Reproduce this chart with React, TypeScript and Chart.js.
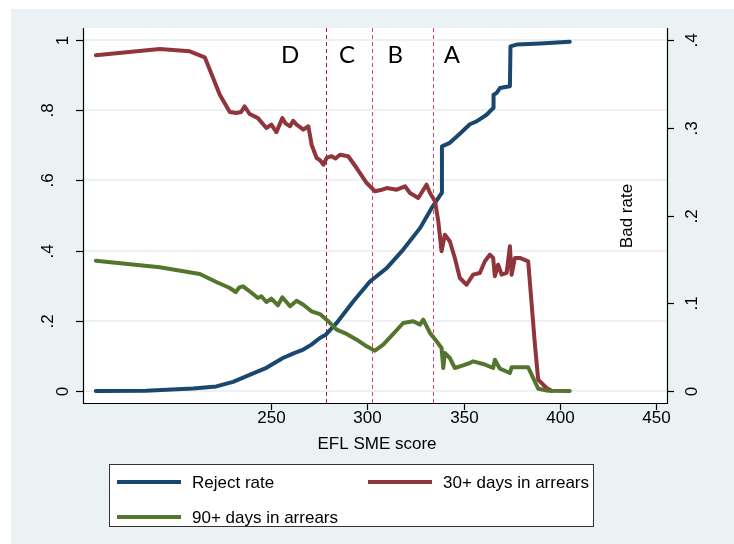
import React, { useEffect, useRef } from "react";
import { Chart, registerables } from "chart.js";

Chart.register(...registerables);

// ---------- data ----------
const rejectScore = [159, 185, 209.5, 221.6, 230.3, 238.9, 247.6, 256.2, 262, 266.8, 271, 275.4, 278.4, 284.1, 292.7, 301.4, 310.1, 318.7, 327.4, 333.4, 338.6, 338.8, 342.9, 348.1, 353.3, 356.8, 362, 365.4, 365.6, 367.2, 368.9, 374.1, 374.4, 377.6, 390, 405.2];
const rejectRate = [0, 0.001, 0.007, 0.013, 0.026, 0.046, 0.066, 0.094, 0.108, 0.118, 0.132, 0.151, 0.16, 0.194, 0.255, 0.312, 0.35, 0.403, 0.464, 0.521, 0.564, 0.697, 0.707, 0.733, 0.76, 0.768, 0.787, 0.806, 0.844, 0.849, 0.863, 0.868, 0.982, 0.987, 0.99, 0.995];

const arrears30Score = [159, 192.2, 207.8, 215.6, 223.4, 228.6, 232, 234.5, 236.3, 238.9, 243.2, 247.6, 250.2, 252.8, 255.9, 257.5, 259.9, 261.5, 263.3, 266.8, 269.4, 271.1, 273.7, 275.5, 277.2, 279, 281.5, 283.5, 285.8, 290.1, 294.5, 299.7, 304, 307, 310.1, 315.3, 319.6, 322.2, 326.5, 330.8, 332.6, 335.2, 336.9, 338.6, 340.3, 342.9, 345.5, 348.1, 351.6, 355, 358.5, 361.1, 363.7, 365.4, 366.3, 368, 369.8, 372.4, 374.1, 375, 376.7, 379.3, 383.6, 387.1, 388.8, 393.1, 396];
const arrears30Rate = [0.3826, 0.3897, 0.3871, 0.3803, 0.3377, 0.318, 0.3168, 0.318, 0.3244, 0.3157, 0.311, 0.2997, 0.3035, 0.295, 0.311, 0.305, 0.3017, 0.308, 0.3035, 0.2978, 0.3017, 0.2807, 0.2655, 0.263, 0.2579, 0.266, 0.2675, 0.265, 0.2693, 0.2675, 0.2541, 0.237, 0.2276, 0.229, 0.2313, 0.2294, 0.2333, 0.2256, 0.2199, 0.2351, 0.2256, 0.2162, 0.1934, 0.1592, 0.1781, 0.1706, 0.1516, 0.1288, 0.1211, 0.1326, 0.1345, 0.1478, 0.1554, 0.1516, 0.1307, 0.144, 0.1326, 0.1345, 0.1649, 0.1326, 0.1516, 0.1516, 0.1478, 0.0528, 0.0129, 0.0034, 0];

const arrears90Score = [159, 192.2, 213, 221.6, 228.6, 231.7, 233.5, 235.5, 238.9, 243.2, 245, 247.6, 250.2, 253.6, 255.9, 259.9, 263.3, 266.8, 271.1, 275.4, 279.8, 284.1, 289.3, 294.5, 299.7, 304, 308.3, 313.5, 318.7, 323.9, 327.4, 329.1, 332.6, 336, 338.6, 339.5, 340.3, 342.9, 345.5, 349.8, 353.3, 355, 360.2, 365.4, 366.3, 368.9, 374.1, 375, 377.6, 383.6, 388.8, 394, 405.2];
const arrears90Rate = [0.1485, 0.141, 0.1333, 0.1242, 0.1174, 0.1128, 0.118, 0.1193, 0.1136, 0.106, 0.108, 0.1014, 0.1052, 0.0977, 0.1068, 0.0965, 0.1029, 0.0983, 0.0908, 0.0877, 0.0794, 0.0699, 0.065, 0.0585, 0.0509, 0.0459, 0.0528, 0.065, 0.0775, 0.0794, 0.0756, 0.0813, 0.0661, 0.0566, 0.049, 0.0262, 0.0433, 0.0376, 0.0262, 0.0293, 0.0319, 0.0338, 0.0308, 0.0262, 0.0357, 0.0254, 0.0205, 0.027, 0.027, 0.027, 0.0026, 0.0003, 0];

const leftTicks = [0, 0.2, 0.4, 0.6, 0.8, 1];
const leftTickLabels = ["0", ".2", ".4", ".6", ".8", "1"];
const rightTicks = [0, 0.1, 0.2, 0.3, 0.4];
const rightTickLabels = ["0", ".1", ".2", ".3", ".4"];
const xTicks = [250, 300, 350, 400, 450];
const xTickLabels = ["250", "300", "350", "400", "450"];
const gradeCutoffs = [278.4, 302.3, 334.3];
const gradeLabels = ["D", "C", "B", "A"];
const gradeLabelScores = [259.9, 289.5, 314.6, 343.9];
const seriesNames = ["Reject rate", "30+ days in arrears", "90+ days in arrears"];
const xTitle = "EFL SME score";
const rightTitle = "Bad rate";

// ---------- style ----------
const W = 734;
const H = 544;
const NAVY = "#1a476f";
const MAROON = "#90353b";
const GREEN = "#55752f";
const BG = "#eaf2f3";
const FONT = '17px "Liberation Sans", Arial, sans-serif';

const toPts = (xs: number[], ys: number[]) => xs.map((x, i) => ({ x, y: ys[i] }));

const stataPlugin = {
  id: "stataDecor",
  beforeDraw(chart: any) {
    const { ctx, chartArea: a } = chart;
    const x = chart.scales.x;
    const yL = chart.scales.yL;
    ctx.save();
    ctx.fillStyle = "#ffffff";
    ctx.fillRect(0, 0, W, H);
    ctx.fillStyle = BG;
    ctx.fillRect(11, 9, W - 11, H - 9);
    ctx.fillStyle = "#ffffff";
    ctx.fillRect(a.left, a.top, a.right - a.left, a.bottom - a.top);
    // horizontal grid
    ctx.strokeStyle = "#e6eef0";
    ctx.lineWidth = 1.5;
    leftTicks.forEach((v) => {
      const y = Math.round(yL.getPixelForValue(v));
      ctx.beginPath();
      ctx.moveTo(a.left, y);
      ctx.lineTo(a.right, y);
      ctx.stroke();
    });
    // grade cutoffs
    ctx.lineWidth = 1;
    ctx.setLineDash([4, 3]);
    gradeCutoffs.forEach((s, i) => {
      const px = Math.round(x.getPixelForValue(s)) + 0.5;
      ctx.strokeStyle = i === 0 ? "#b0153a" : "#d4466e";
      ctx.beginPath();
      ctx.moveTo(px, a.top);
      ctx.lineTo(px, a.bottom);
      ctx.stroke();
    });
    ctx.setLineDash([]);
    // grade letters
    ctx.fillStyle = "#000";
    ctx.font = '24px Lato, "Open Sans", sans-serif';
    ctx.textAlign = "center";
    ctx.textBaseline = "alphabetic";
    gradeLabels.forEach((g, i) => {
      ctx.fillText(g, x.getPixelForValue(gradeLabelScores[i]), 63);
    });
    ctx.restore();
  },
  afterDatasetsDraw(chart: any) {
    const { ctx, chartArea: a } = chart;
    const x = chart.scales.x;
    const yL = chart.scales.yL;
    const yR = chart.scales.yR;
    ctx.save();
    // axes
    ctx.strokeStyle = "#000";
    ctx.lineWidth = 1.2;
    ctx.beginPath();
    ctx.moveTo(a.left + 0.5, a.top);
    ctx.lineTo(a.left + 0.5, a.bottom + 0.5);
    ctx.lineTo(a.right + 0.5, a.bottom + 0.5);
    ctx.lineTo(a.right + 0.5, a.top);
    ctx.stroke();
    ctx.fillStyle = "#000";
    ctx.font = FONT;
    // left ticks
    leftTicks.forEach((v, i) => {
      const py = Math.round(yL.getPixelForValue(v)) + 0.5;
      ctx.beginPath();
      ctx.moveTo(a.left - 7, py);
      ctx.lineTo(a.left, py);
      ctx.stroke();
      const lbl = leftTickLabels[i];
      const bx = lbl.startsWith(".") ? 52.5 : 67.5;
      ctx.save();
      ctx.translate(bx, py);
      ctx.rotate(-Math.PI / 2);
      ctx.textAlign = "center";
      ctx.textBaseline = "alphabetic";
      ctx.fillText(lbl, 0, 0);
      ctx.restore();
    });
    // right ticks
    rightTicks.forEach((v, i) => {
      const py = Math.round(yR.getPixelForValue(v)) + 0.5;
      ctx.beginPath();
      ctx.moveTo(a.right, py);
      ctx.lineTo(a.right + 7, py);
      ctx.stroke();
      ctx.save();
      ctx.translate(697, py);
      ctx.rotate(-Math.PI / 2);
      ctx.textAlign = "center";
      ctx.textBaseline = "alphabetic";
      ctx.fillText(rightTickLabels[i], 0, 0);
      ctx.restore();
    });
    // x ticks
    ctx.textAlign = "center";
    ctx.textBaseline = "top";
    xTicks.forEach((v, i) => {
      const px = Math.round(x.getPixelForValue(v)) + 0.5;
      ctx.beginPath();
      ctx.moveTo(px, a.bottom);
      ctx.lineTo(px, a.bottom + 7);
      ctx.stroke();
      ctx.fillText(xTickLabels[i], px, 410);
    });
    // x title
    ctx.textBaseline = "alphabetic";
    ctx.fillText(xTitle, 377, 449);
    // right title (inside plot)
    ctx.save();
    ctx.translate(632, 216);
    ctx.rotate(-Math.PI / 2);
    ctx.textAlign = "center";
    ctx.textBaseline = "alphabetic";
    ctx.fillText(rightTitle, 0, 0);
    ctx.restore();
    // legend
    ctx.fillStyle = "#fff";
    ctx.fillRect(109, 464, 484, 62);
    ctx.strokeStyle = "#333";
    ctx.lineWidth = 1;
    ctx.strokeRect(109.5, 464.5, 484, 62);
    const items = [
      { name: seriesNames[0], color: NAVY, lx: 117, ty: 482 },
      { name: seriesNames[1], color: MAROON, lx: 368, ty: 482 },
      { name: seriesNames[2], color: GREEN, lx: 117, ty: 517 },
    ];
    items.forEach((it) => {
      ctx.strokeStyle = it.color;
      ctx.lineWidth = 4;
      ctx.beginPath();
      ctx.moveTo(it.lx, it.ty);
      ctx.lineTo(it.lx + 64, it.ty);
      ctx.stroke();
      ctx.fillStyle = "#000";
      ctx.textAlign = "left";
      ctx.textBaseline = "middle";
      ctx.fillText(it.name, it.lx + 75, it.ty + 1);
    });
    ctx.restore();
  },
};

export default function App() {
  const ref = useRef<HTMLCanvasElement | null>(null);
  useEffect(() => {
    if (!ref.current) return;
    const common = {
      showLine: true,
      pointRadius: 0,
      pointHoverRadius: 0,
      borderWidth: 4,
      tension: 0,
      borderJoinStyle: "round" as const,
      borderCapStyle: "round" as const,
      fill: false,
    };
    const chart = new Chart(ref.current, {
      type: "scatter",
      data: {
        datasets: [
          { ...common, label: seriesNames[2], data: toPts(arrears90Score, arrears90Rate), borderColor: GREEN, backgroundColor: GREEN, yAxisID: "yR" },
          { ...common, label: seriesNames[1], data: toPts(arrears30Score, arrears30Rate), borderColor: MAROON, backgroundColor: MAROON, yAxisID: "yR" },
          { ...common, label: seriesNames[0], data: toPts(rejectScore, rejectRate), borderColor: NAVY, backgroundColor: NAVY, yAxisID: "yL" },
        ],
      },
      options: {
        responsive: false,
        animation: false,
        events: [],
        layout: { padding: { left: 83, right: 67, top: 28, bottom: 141 } },
        scales: {
          x: { type: "linear", min: 152.34, max: 455.71, display: false },
          yL: { type: "linear", position: "left", min: -0.0342, max: 1.0342, display: false },
          yR: { type: "linear", position: "right", min: -0.01368, max: 0.41368, display: false },
        },
        plugins: { legend: { display: false }, tooltip: { enabled: false } },
      },
      plugins: [stataPlugin],
    });
    return () => chart.destroy();
  }, []);
  return (
    <div style={{ position: "fixed", left: 0, top: 0, width: W, height: H, background: "#fff" }}>
      <canvas ref={ref} width={W} height={H} style={{ width: W, height: H, display: "block" }} />
    </div>
  );
}
